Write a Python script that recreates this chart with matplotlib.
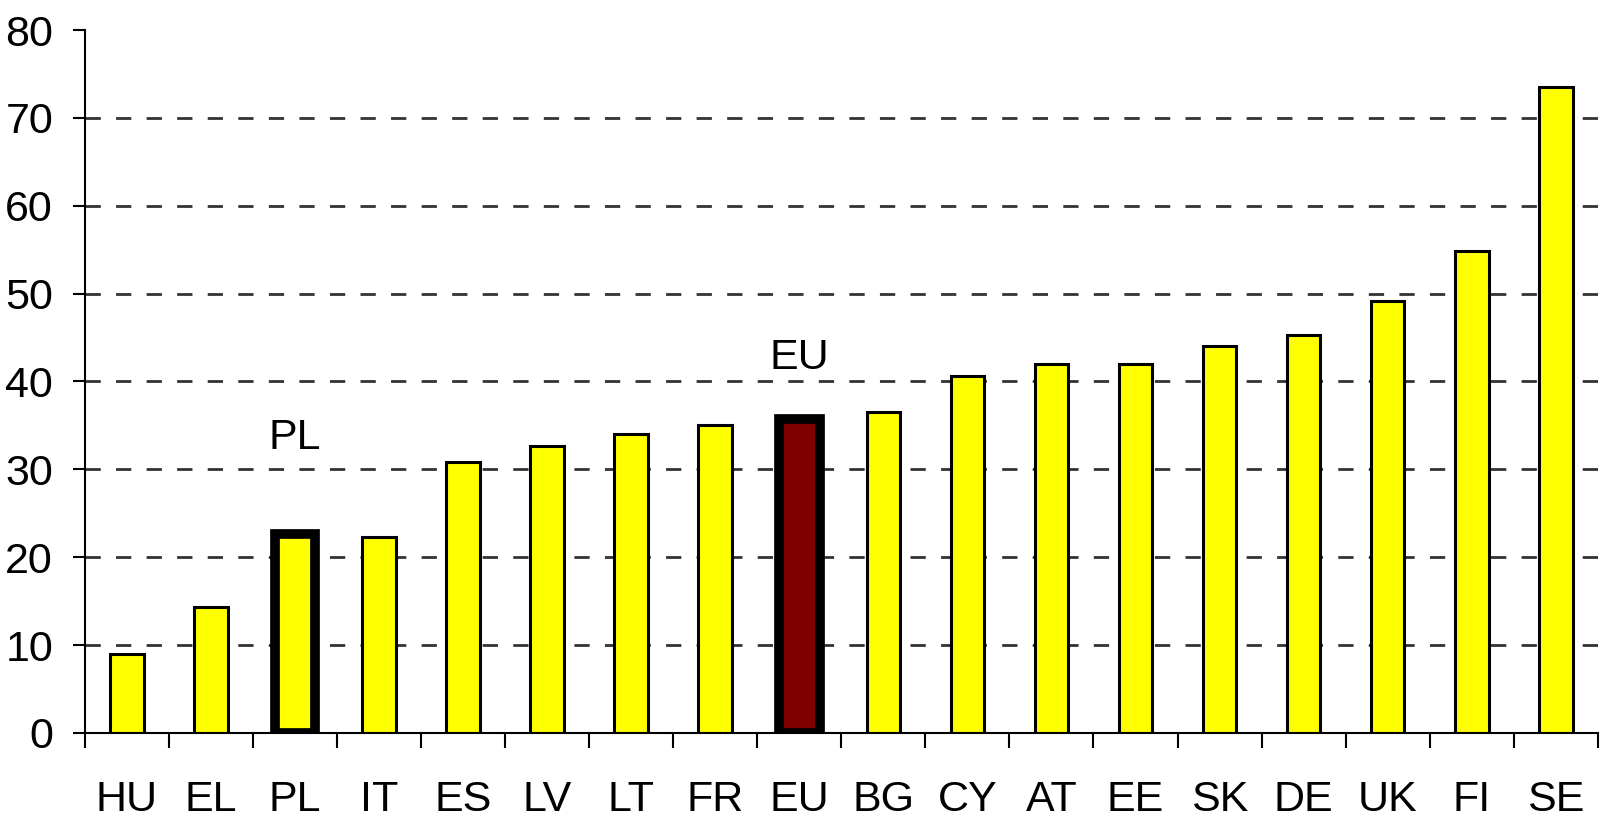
import matplotlib.pyplot as plt

# data
countries = ['HU', 'EL', 'PL', 'IT', 'ES', 'LV', 'LT', 'FR', 'EU',
             'BG', 'CY', 'AT', 'EE', 'SK', 'DE', 'UK', 'FI', 'SE']
values = [9.0, 14.3, 22.6, 22.3, 30.8, 32.7, 34.0, 35.0, 35.7,
          36.5, 40.6, 42.0, 42.0, 44.0, 45.3, 49.2, 54.9, 73.5]
highlight = ['PL', 'EU']

plt.rcParams['font.family'] = ['Liberation Sans', 'DejaVu Sans']

fig = plt.figure(figsize=(16, 8.22), dpi=100)
ax = fig.add_axes([0.0531, 0.1083, 0.9455, 0.8552])

x = list(range(len(countries)))
colors = []
lws = []
bw = []
for c in countries:
    colors.append('#800000' if c == 'EU' else '#ffff00')
    if c in highlight:
        lws.append(7)
        bw.append(0.48)
    else:
        lws.append(2.2)
        bw.append(0.4)

# grid behind the bars
for v in range(10, 80, 10):
    ax.axhline(v, color='#333333', lw=2, ls=(0, (5.5, 5.5)), zorder=0)

ax.bar(x, values, width=bw, color=colors, edgecolor='black', linewidth=lws, zorder=2)

for c in highlight:
    i = countries.index(c)
    ax.text(i, values[i] + (11 if c == 'PL' else 7), c, ha='center', va='center', fontsize=31)

ax.set_xlim(-0.5, len(countries) - 0.5)
ax.set_ylim(0, 80)
ax.set_yticks(range(0, 90, 10))
ax.set_xticks(x)
ax.set_xticklabels(countries)
ax.set_xticks([i - 0.5 for i in range(len(countries) + 1)], minor=True)

ax.tick_params(axis='x', which='major', length=0, pad=34, labelsize=31)
ax.tick_params(axis='x', which='minor', length=11, width=1.5, direction='out')
ax.tick_params(axis='y', length=9, width=1.5, pad=14, labelsize=31)

ax.spines['top'].set_visible(False)
ax.spines['right'].set_visible(False)
ax.spines['left'].set_linewidth(1.5)
ax.spines['bottom'].set_linewidth(1.5)

fig.savefig('out.png', dpi=100)
